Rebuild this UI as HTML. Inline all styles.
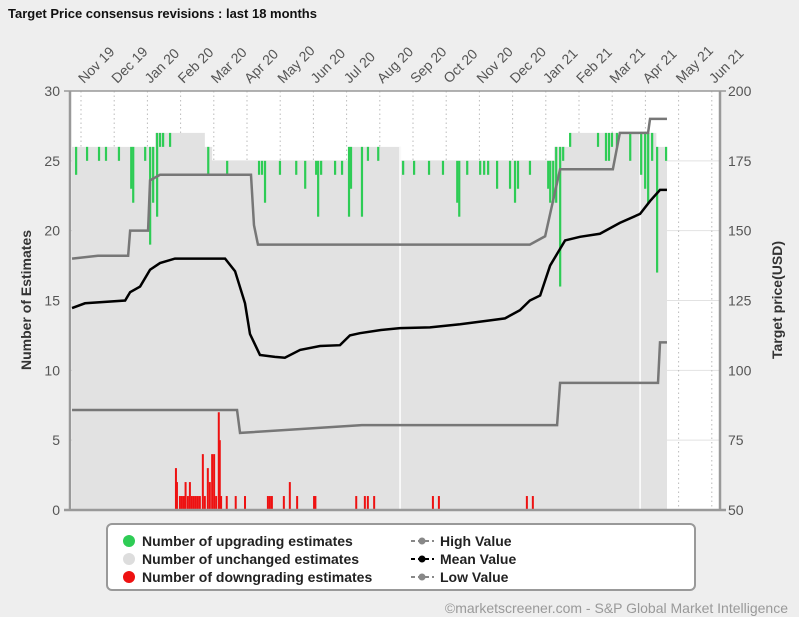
<!DOCTYPE html>
<html><head><meta charset="utf-8"><style>
body{margin:0;background:#eeeeee;font-family:"Liberation Sans",sans-serif}
svg{display:block}
</style></head><body>
<svg id="c" width="799" height="617" xmlns="http://www.w3.org/2000/svg">
<rect width="799" height="617" fill="#eeeeee"/>
<text x="8" y="18" font-size="13" font-weight="bold" fill="#111">Target Price consensus revisions : last 18 months</text>
<rect x="70" y="91" width="650" height="419" fill="#ffffff"/>
<g id="grid"></g><g id="bars"></g><g id="lines"></g><g id="axes"></g>
<g>
<rect x="107" y="524" width="588" height="66" rx="5" fill="#fff" stroke="#999" stroke-width="2"/>
<circle cx="129" cy="541" r="6" fill="#2ecc55"/><text x="142" y="546" font-size="14" font-weight="bold" fill="#222">Number of upgrading estimates</text>
<circle cx="129" cy="559" r="6" fill="#dddddd"/><text x="142" y="564" font-size="14" font-weight="bold" fill="#222">Number of unchanged estimates</text>
<circle cx="129" cy="577" r="6" fill="#ee1111"/><text x="142" y="582" font-size="14" font-weight="bold" fill="#222">Number of downgrading estimates</text>
<line x1="411" y1="541" x2="434" y2="541" stroke="#888" stroke-width="2" stroke-dasharray="4,3"/><circle cx="422" cy="541" r="3.5" fill="#888"/><text x="440" y="546" font-size="14" font-weight="bold" fill="#222">High Value</text>
<line x1="411" y1="559" x2="434" y2="559" stroke="#000" stroke-width="2" stroke-dasharray="4,3"/><circle cx="422" cy="559" r="3.5" fill="#000"/><text x="440" y="564" font-size="14" font-weight="bold" fill="#222">Mean Value</text>
<line x1="411" y1="577" x2="434" y2="577" stroke="#888" stroke-width="2" stroke-dasharray="4,3"/><circle cx="422" cy="577" r="3.5" fill="#888"/><text x="440" y="582" font-size="14" font-weight="bold" fill="#222">Low Value</text>
</g>
<text x="788" y="613" font-size="14" fill="#999" text-anchor="end">©marketscreener.com - S&amp;P Global Market Intelligence</text>
</svg>
<script>
const months=["Nov 19","Dec 19","Jan 20","Feb 20","Mar 20","Apr 20","May 20","Jun 20","Jul 20","Aug 20","Sep 20","Oct 20","Nov 20","Dec 20","Jan 21","Feb 21","Mar 21","Apr 21","May 21","Jun 21"];
const leftTicks=[0,5,10,15,20,25,30];
const rightTicks=[50,75,100,125,150,175,200];
const totalDates=[-0.27,2.23,3.73,3.95,8.07,9.64,14.25,14.73,17.33,17.65];
const totalValues=[26,27,26,25,26,25,26,27,26,26];
const upDates=[-0.15,0.18,0.54,0.75,1.14,1.51,1.57,1.93,2.08,2.17,2.29,2.38,2.47,2.68,3.83,4.40,5.36,5.45,5.54,5.99,6.48,6.75,7.08,7.14,7.23,7.65,7.86,8.07,8.13,8.46,8.64,8.95,9.70,10.03,10.48,10.90,11.33,11.39,11.63,12.02,12.14,12.26,12.53,12.92,13.07,13.16,13.52,14.07,14.13,14.22,14.31,14.43,14.52,14.73,15.57,15.81,15.90,15.99,16.14,16.54,16.87,16.99,17.08,17.20,17.35,17.62];
const upCounts=[2,1,1,1,1,3,4,1,7,4,6,1,1,1,2,1,1,1,3,1,1,2,1,4,1,1,1,5,3,5,1,1,1,1,1,1,3,4,1,1,1,1,2,2,3,2,1,2,3,3,4,10,1,1,1,2,2,1,1,2,3,4,5,2,9,1];
const downDates=[2.86,2.89,2.98,3.04,3.10,3.15,3.22,3.28,3.34,3.40,3.46,3.52,3.58,3.67,3.73,3.82,3.88,3.95,4.01,4.07,4.15,4.18,4.22,4.39,4.66,4.94,5.63,5.69,5.75,6.11,6.29,6.51,7.02,7.06,8.29,8.55,8.64,8.83,10.60,10.78,13.43,13.61];
const downCounts=[3,2,1,1,1,2,1,2,1,1,1,1,1,4,1,3,2,4,4,1,7,5,1,1,1,1,1,1,1,1,2,1,1,1,1,1,1,1,1,1,1,1];
const highDates=[-0.27,0.51,1.42,1.48,2.02,2.08,2.38,5.12,5.21,5.33,13.52,13.98,14.43,16.02,16.23,17.08,17.14,17.65];
const highValues=[140,141,141,150,150,168,170,170,152,145,145,148,172,172,185,185,190,190];
const meanDates=[-0.27,0.12,1.33,1.48,1.78,2.08,2.38,2.83,4.34,4.64,4.94,5.09,5.39,5.84,6.14,6.60,7.20,7.80,8.10,8.40,9.01,9.61,10.51,11.42,12.32,12.77,13.22,13.52,13.83,14.13,14.58,15.03,15.63,16.23,16.84,17.14,17.44,17.65];
const meanValues=[122.3,124,125,128,130,136,138.4,140,140,135.5,124,113,105.5,104.8,104.5,107.3,108.7,109,112.5,113.3,114.4,115.1,115.4,116.5,117.9,118.6,121.5,125,126.8,137.5,146.5,147.8,148.9,152.8,156,160.6,164.6,164.6];
const lowDates=[-0.27,4.70,4.79,8.46,14.34,14.43,17.38,17.44,17.65];
const lowValues=[85.8,85.8,77.6,80.4,80.4,95.5,95.5,110,110];

const NS="http://www.w3.org/2000/svg";
const X0=70,X1=720,YT=91,YB=510;
const xs=m=>81+33.2*m;
const yl=v=>YB-(v/30)*(YB-YT);
const yr=p=>YB-((p-50)/150)*(YB-YT);
function mk(tag,attrs,parent,txt){const e=document.createElementNS(NS,tag);for(const k in attrs)e.setAttribute(k,attrs[k]);if(txt!==undefined)e.textContent=txt;document.getElementById(parent).appendChild(e);return e;}
function totalAt(m){let v=totalValues[0];for(let i=0;i<totalDates.length;i++){if(m>=totalDates[i])v=totalValues[i];}return v;}

// grid
leftTicks.forEach(t=>{const l=mk('line',{x1:X0,x2:X1,y1:yl(t),y2:yl(t),stroke:'#e2e2e2','stroke-width':1},'grid');

});
months.forEach((mo,i)=>{const l=mk('line',{x1:xs(i),x2:xs(i),y1:YT,y2:YB,stroke:'#bbb','stroke-width':1,'stroke-dasharray':'1.5,3'},'grid');

});
// unchanged area
let d='';for(let i=0;i<totalDates.length-1;i++){d+=`M${xs(totalDates[i])},${YB}V${yl(totalValues[i])}H${xs(totalDates[i+1])}V${YB}Z`;}
const area=mk('path',{d:d,fill:'#e2e2e2'},'bars');


[9.61,16.84].forEach(m=>{const g=mk('line',{x1:xs(m),x2:xs(m),y1:yl(totalAt(m)),y2:YB,stroke:'#fff','stroke-width':1.5},'bars');

});
upDates.forEach((m,i)=>{const t=totalAt(m);const r=mk('rect',{x:xs(m)-1,y:yl(t),width:2.2,height:yl(t-upCounts[i])-yl(t),fill:'#2ecc55'},'bars');

});
downDates.forEach((m,i)=>{const r=mk('rect',{x:xs(m)-1,y:yl(downCounts[i]),width:2,height:YB-yl(downCounts[i]),fill:'#ee1111'},'bars');

});
function stepPath(ds,vs){let p=`M${xs(ds[0])},${yr(vs[0])}`;for(let i=1;i<ds.length;i++)p+=`L${xs(ds[i])},${yr(vs[i])}`;return p;}
const hl=mk('path',{d:stepPath(highDates,highValues),fill:'none',stroke:'#777','stroke-width':2.5},'lines');


const ll=mk('path',{d:stepPath(lowDates,lowValues),fill:'none',stroke:'#777','stroke-width':2.5},'lines');


const ml=mk('path',{d:stepPath(meanDates,meanValues),fill:'none',stroke:'#000','stroke-width':2.5},'lines');


// axes
[[X0,YT,X0,YB],[X1,YT,X1,YB],[X0-6,YB,X1+6,YB],[X0-6,YT,X1+6,YT]].forEach((a,i)=>{const l=mk('line',{x1:a[0],y1:a[1],x2:a[2],y2:a[3],stroke:'#999','stroke-width':i==3?1.5:2.5},'axes');

});
leftTicks.forEach(t=>{const e=mk('text',{x:X0-10,y:yl(t)+5,'font-size':14,fill:'#555','text-anchor':'end'},'axes',String(t));

});
rightTicks.forEach(t=>{const e=mk('text',{x:X1+8,y:yr(t)+5,'font-size':14,fill:'#555'},'axes',String(t));

});
months.forEach((mo,i)=>{const x=xs(i)+3;const e=mk('text',{x:x,y:84,'font-size':14,fill:'#555',transform:`rotate(-45 ${x} 84)`},'axes',mo);

});
const yt=mk('text',{x:31,y:300,'font-size':14,'font-weight':'bold',fill:'#333','text-anchor':'middle',transform:'rotate(-90 31 300)'},'axes','Number of Estimates');


const yt2=mk('text',{x:782,y:300,'font-size':14,'font-weight':'bold',fill:'#333','text-anchor':'middle',transform:'rotate(-90 782 300)'},'axes','Target price(USD)');


</script>
</body></html>
